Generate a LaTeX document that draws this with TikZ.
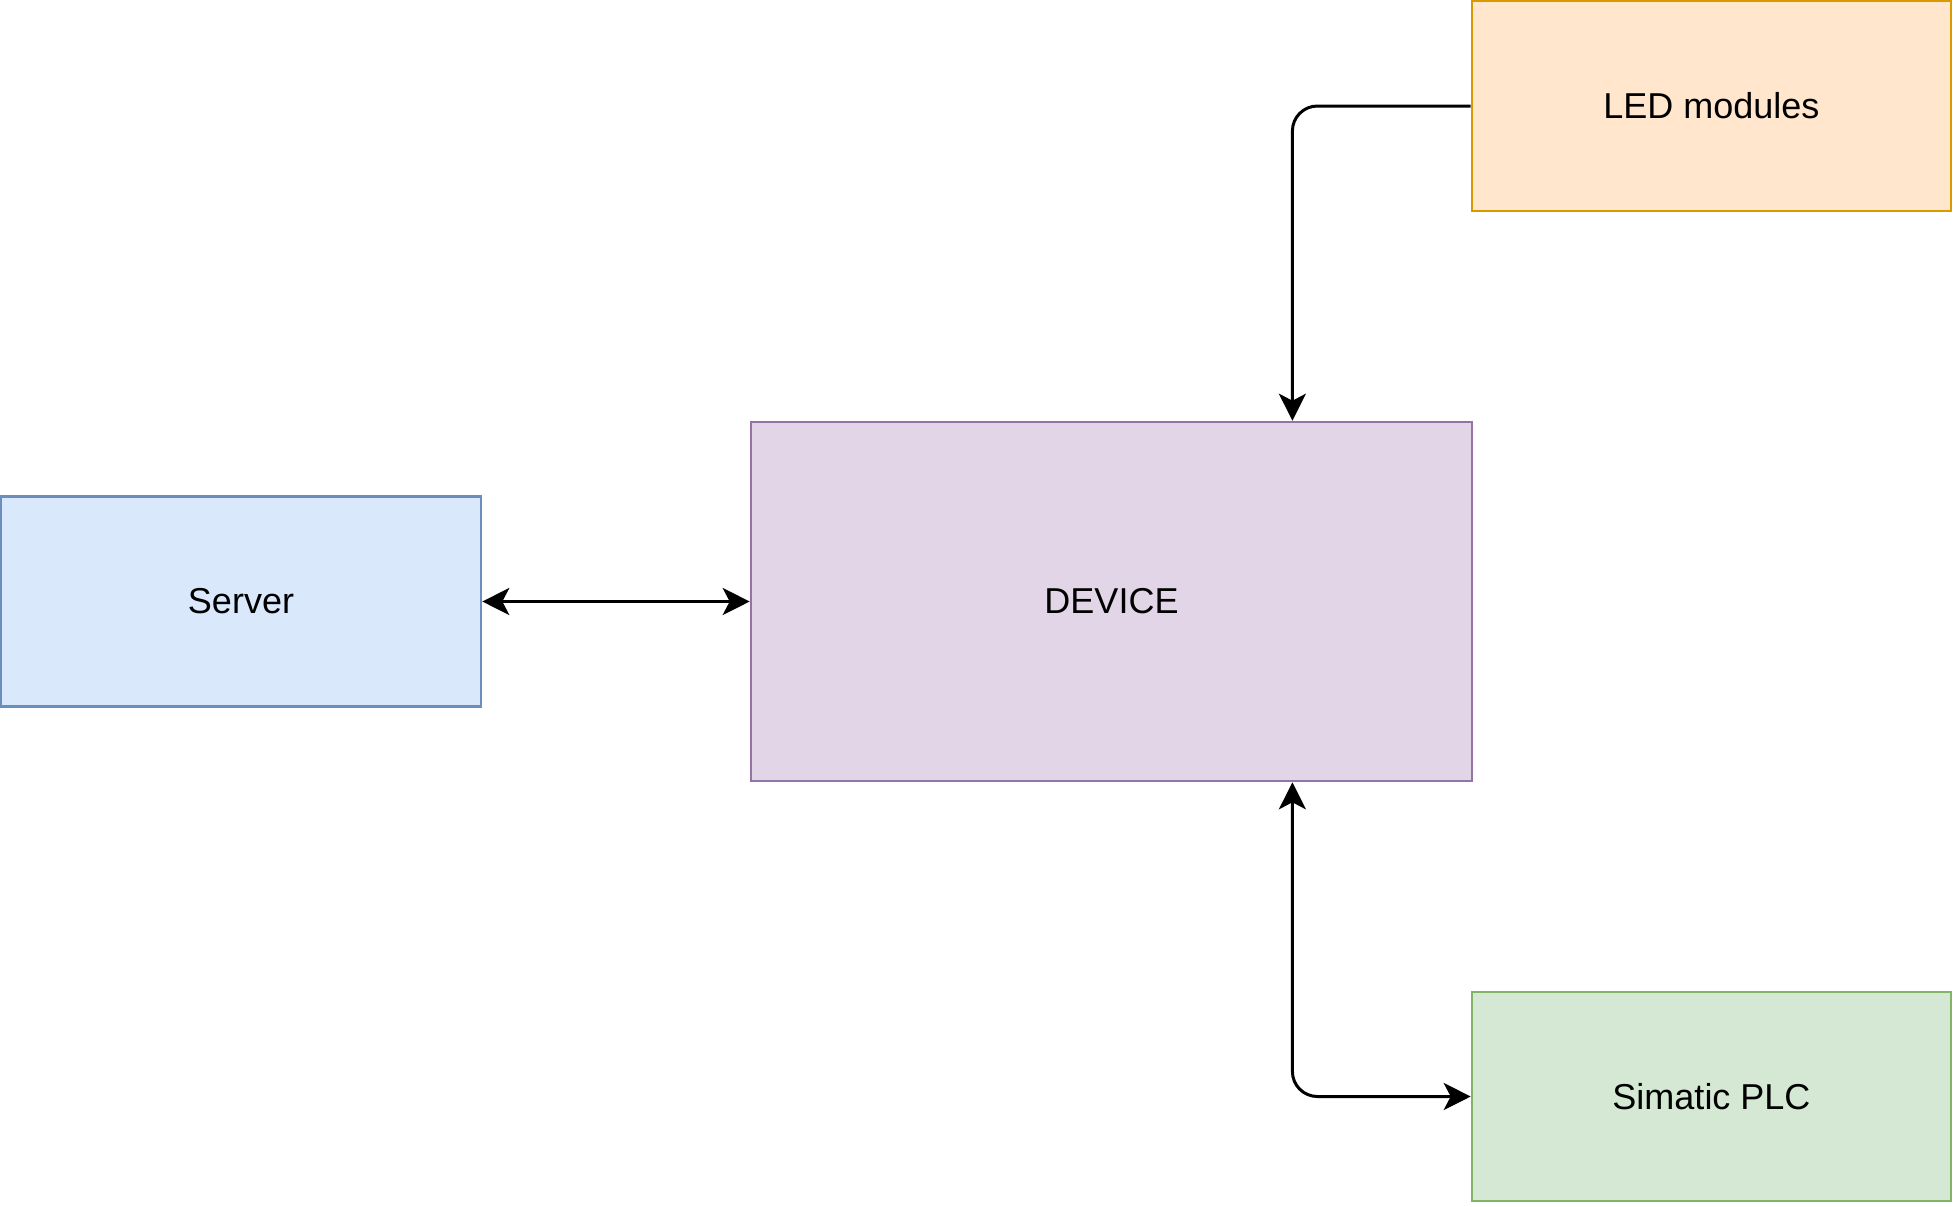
\documentclass[tikz,border=0pt]{standalone}
\usepackage{fontspec}
\setmainfont{Liberation Sans}
\usetikzlibrary{arrows.meta,calc}
\definecolor{bluefill}{HTML}{DAE8FC}
\definecolor{bluedraw}{HTML}{6C8EBF}
\definecolor{purplefill}{HTML}{E1D5E7}
\definecolor{purpledraw}{HTML}{9673A6}
\definecolor{orangefill}{HTML}{FFE6CC}
\definecolor{orangedraw}{HTML}{D79B00}
\definecolor{greenfill}{HTML}{D5E8D4}
\definecolor{greendraw}{HTML}{82B366}
\begin{document}
\begin{tikzpicture}[x=0.5pt,y=-0.5pt,
  box/.style={rectangle,line width=1.3pt,inner sep=0pt,font=\fontsize{18pt}{21pt}\selectfont},
  conn/.style={line width=1.5pt,black,rounded corners=12.5pt},
  tip/.tip={Stealth[length=13.5pt,width=13.5pt,inset=3.5pt]}]
\useasboundingbox (0,0) rectangle (1956,1206);
\node[box,fill=orangefill,draw=orangedraw,minimum width=239.5pt,minimum height=105pt] (led) at (1711.5,106) {LED modules};
\node[box,fill=purplefill,draw=purpledraw,minimum width=360.5pt,minimum height=179.5pt] (dev) at (1111.5,601.5) {DEVICE};
\node[box,fill=bluefill,draw=bluedraw,minimum width=240pt,minimum height=105pt] (srv) at (241,601.5) {Server};
\node[box,fill=greenfill,draw=greendraw,minimum width=239.5pt,minimum height=104.5pt] (plc) at (1711.5,1096.5) {Simatic PLC};
\coordinate (devtop) at ($(dev.north west)!0.75!(dev.north east)$);
\coordinate (devbot) at ($(dev.south west)!0.75!(dev.south east)$);
\draw[conn,-{tip}] (led.west) -| (devtop);
\draw[conn,{tip}-{tip}] (srv.east) -- (dev.west);
\draw[conn,{tip}-{tip}] (devbot) |- (plc.west);
\end{tikzpicture}
\end{document}
